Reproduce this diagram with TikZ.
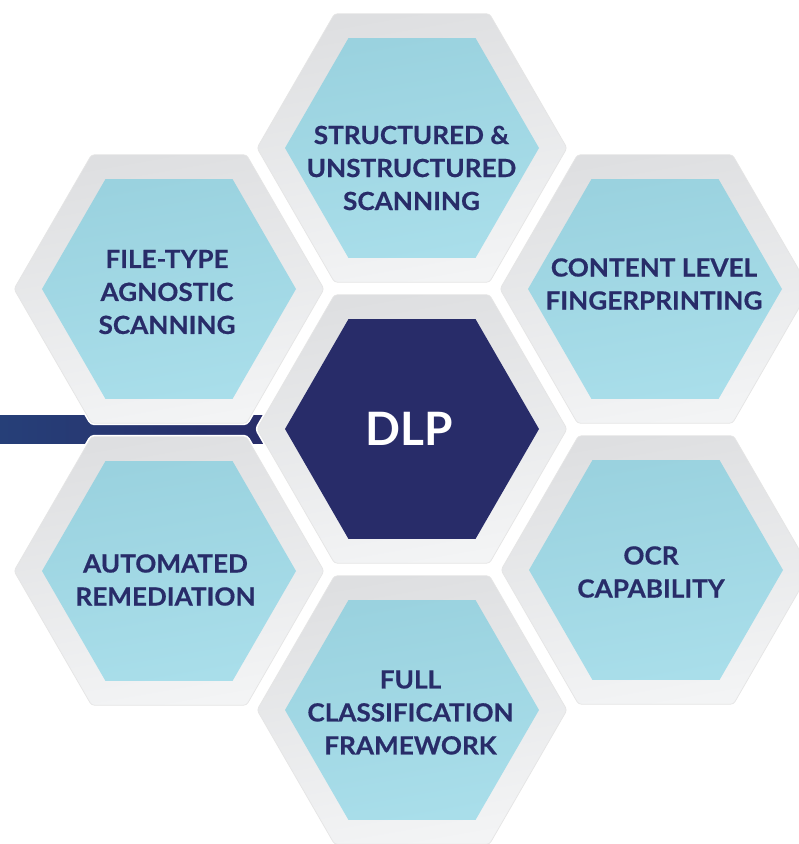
\documentclass[tikz,border=0pt]{standalone}
\usepackage{fontspec}
\setmainfont{Lato}
\newfontfamily\labfont{Lato}[FakeStretch=1.045,BoldFeatures={FakeBold=0.5}]
\usetikzlibrary{calc}
\definecolor{navy}{HTML}{282C69}
\definecolor{grayA}{HTML}{DEDFE1}
\definecolor{grayB}{HTML}{F3F4F5}
\definecolor{blueA}{HTML}{9AD2DF}
\definecolor{blueB}{HTML}{A9DEEA}
\definecolor{barA}{HTML}{263F78}
\definecolor{barB}{HTML}{282C69}
\newcommand\hexat[2]{(#1) ++(#2,0) -- ++({-#2/2},{0.8660254*#2}) -- ++(-#2,0) -- ++({-#2/2},{-0.8660254*#2}) -- ++({#2/2},{-0.8660254*#2}) -- ++(#2,0) -- cycle}
\tikzset{
  ring/.style={preaction={draw=white,line width=4pt},draw=black!10,line width=0.7pt,
    rounded corners=3pt,top color=grayA,bottom color=grayB,shading angle=10},
  core/.style={top color=blueA,bottom color=blueB,shading angle=10},
  corecenter/.style={fill=navy},
  lab/.style={font=\labfont\fontsize{25}{33}\selectfont\bfseries,text=navy,align=center,inner sep=0pt},
  dlp/.style={font=\fontsize{46}{50}\selectfont\bfseries,text=white,inner sep=0pt}
}
\begin{document}
\begin{tikzpicture}[x=1pt,y=-1pt]
\useasboundingbox (0,0) rectangle (799,844);
\clip (0,0) rectangle (799,844);
\coordinate (hTop) at (412,148);
\coordinate (hTL) at (169,289);
\coordinate (hTR) at (655,289);
\coordinate (hC) at (412,429);
\coordinate (hBL) at (169,571);
\coordinate (hBR) at (656,570);
\coordinate (hBot) at (412,710);
% bar
\shade[left color=barA,right color=barB] (0,415) rectangle (275,443);
% outer rings
\foreach \h in {hTop,hTL,hTR,hBL,hBR,hBot,hC}{
  \path[ring] \hexat{\h}{155};
}
% inner cores
\foreach \h in {hTop,hTL,hTR,hBL,hBR,hBot}{
  \path[core] \hexat{\h}{127};
}
\path[corecenter] \hexat{hC}{127};
% labels
\node[lab] (tTop) at (411.5,168) {STRUCTURED \&\\UNSTRUCTURED\\SCANNING};
\node[lab] (tTL) at (167,292) {FILE-TYPE\\AGNOSTIC\\SCANNING};
\node[lab] (tTR) at (654,284) {CONTENT LEVEL\\FINGERPRINTING};
\node[lab] (tBL) at (165.5,580) {AUTOMATED\\REMEDIATION};
\node[lab] (tBR) at (651,572) {OCR\\CAPABILITY};
\node[lab] (tBot) at (410.5,712.5) {FULL\\CLASSIFICATION\\FRAMEWORK};
\node[dlp] (tC) at (409,428.5) {DLP};
\end{tikzpicture}
\end{document}
